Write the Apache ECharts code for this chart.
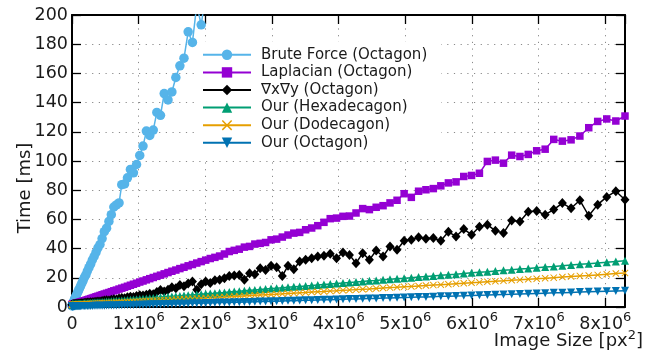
<!DOCTYPE html>
<html>
<head>
<meta charset="utf-8">
<script src="https://cdn.jsdelivr.net/npm/echarts@6/dist/echarts.min.js"></script>
<style>
  html, body { margin: 0; padding: 0; background: #ffffff; }
  #chart { width: 660px; height: 352px; }
</style>
</head>
<body>
<div id="chart"></div>
<script>
// Frame widths of the 16:9 test images (height = width * 9 / 16)
const widths = [
  32, 64, 96, 128, 160, 192, 224, 256, 288, 320,
  352, 384, 416, 448, 480, 512, 544, 576, 608, 640,
  672, 704, 736, 768, 800, 832, 864, 896, 928, 960,
  992, 1024, 1056, 1088, 1120, 1152, 1184, 1216, 1248, 1280,
  1312, 1344, 1376, 1408, 1440, 1472, 1504, 1536, 1568, 1600,
  1632, 1664, 1696, 1728, 1760, 1792, 1824, 1856, 1888, 1920,
  1952, 1984, 2016, 2048, 2080, 2112, 2144, 2176, 2208, 2240,
  2272, 2304, 2336, 2368, 2400, 2432, 2464, 2496, 2528, 2560,
  2592, 2624, 2656, 2688, 2720, 2752, 2784, 2816, 2848, 2880,
  2912, 2944, 2976, 3008, 3040, 3072, 3104, 3136, 3168, 3200,
  3232, 3264, 3296, 3328, 3360, 3392, 3424, 3456, 3488, 3520,
  3552, 3584, 3616, 3648, 3680, 3712, 3744, 3776, 3808, 3840
];

// Run times in ms, one value per image size
const bruteForce = [
  0.8, 1.0, 1.3, 1.8, 2.2, 3.1, 4.0, 5.2, 6.1, 7.3,
  8.4, 9.9, 11.2, 12.8, 14.5, 16.3, 18.1, 20.3, 22.0, 24.6,
  26.9, 29.3, 32.2, 34.6, 37.4, 40.5, 42.8, 46.9, 51.6, 54.0,
  58.6, 63.2, 68.5, 69.9, 71.3, 83.8, 84.3, 88.5, 94.2, 91.9,
  97.6, 103.8, 110.2, 120.5, 117.5, 121.2, 133.3, 131.3, 146.2, 141.8,
  147.3, 157.2, 165.2, 170.4, 188.5, 181.2, 207.0, 193.3, 214.0
];

const laplacian = [
  1.6, 1.6, 1.7, 1.8, 1.9, 2.0, 2.1, 2.2, 2.3, 2.5,
  2.6, 2.8, 3.0, 3.2, 3.5, 3.7, 4.0, 4.3, 4.6, 5.0,
  5.3, 5.7, 6.1, 6.5, 7.0, 7.4, 7.9, 8.4, 8.9, 9.4,
  9.9, 10.5, 11.1, 11.6, 12.3, 12.9, 13.5, 14.2, 14.9, 15.6,
  16.3, 17.1, 17.8, 18.6, 19.4, 20.2, 21.0, 21.8, 22.7, 23.6,
  24.5, 25.3, 26.3, 27.2, 28.2, 29.1, 30.1, 31.1, 32.1, 33.2,
  34.0, 34.9, 36.3, 38.0, 38.8, 39.6, 41.0, 41.5, 43.1, 43.6,
  44.2, 46.0, 46.5, 47.9, 49.3, 50.6, 51.1, 52.9, 54.1, 55.7,
  58.0, 60.5, 60.9, 62.1, 62.3, 64.4, 67.4, 66.7, 68.3, 69.4,
  71.3, 73.1, 77.6, 75.1, 79.3, 80.3, 81.1, 83.0, 85.0, 85.7,
  89.4, 90.1, 91.6, 99.7, 100.6, 98.5, 104.0, 103.1, 104.5, 107.0,
  108.1, 114.8, 113.6, 114.5, 117.1, 122.8, 127.1, 128.8, 127.4, 130.8
];

const gradientXY = [
  1.5, 1.5, 1.6, 1.6, 1.7, 1.7, 1.8, 1.8, 1.9, 2.0,
  2.0, 2.1, 2.2, 2.3, 2.4, 2.5, 2.6, 2.7, 2.9, 3.0,
  3.1, 3.3, 3.2, 3.5, 3.6, 3.8, 3.7, 4.1, 4.4, 4.6,
  4.5, 5.0, 5.3, 5.2, 5.8, 6.1, 6.0, 6.6, 7.0, 6.8,
  7.6, 8.0, 7.8, 8.4, 9.1, 8.8, 10.2, 11.7, 10.6, 11.9,
  13.5, 12.8, 15.0, 14.2, 16.1, 17.4, 11.8, 15.6, 17.4, 16.5,
  18.3, 18.6, 19.7, 21.3, 21.6, 22.0, 18.6, 23.1, 22.4, 26.6,
  25.4, 28.2, 27.3, 21.3, 28.2, 25.9, 31.2, 32.3, 33.4, 34.6,
  35.1, 36.4, 33.4, 37.3, 35.7, 30.0, 36.9, 32.3, 38.7, 34.6,
  41.5, 39.2, 45.4, 46.0, 47.7, 46.7, 47.2, 45.4, 51.5, 48.3,
  53.4, 49.5, 55.0, 56.4, 52.2, 50.6, 59.3, 58.6, 65.3, 65.7,
  63.2, 66.7, 71.2, 67.6, 73.1, 62.5, 70.1, 75.4, 79.3, 73.5
];

const ourHexadecagon = [
  1.8, 1.8, 1.8, 1.8, 1.9, 1.9, 1.9, 1.9, 2.0, 2.0,
  2.1, 2.1, 2.2, 2.2, 2.3, 2.3, 2.4, 2.5, 2.6, 2.6,
  2.7, 2.8, 2.9, 3.0, 3.1, 3.2, 3.3, 3.4, 3.5, 3.7,
  3.8, 3.9, 4.1, 4.2, 4.3, 4.5, 4.6, 4.8, 5.0, 5.1,
  5.3, 5.5, 5.6, 5.8, 6.0, 6.2, 6.4, 6.6, 6.8, 7.0,
  7.2, 7.4, 7.6, 7.9, 8.1, 8.3, 8.5, 8.8, 9.0, 9.3,
  9.5, 9.8, 10.0, 10.3, 10.6, 10.8, 11.1, 11.4, 11.7, 12.0,
  12.3, 12.6, 12.9, 13.2, 13.5, 13.8, 14.1, 14.4, 14.7, 15.1,
  15.4, 15.7, 16.1, 16.4, 16.8, 17.1, 17.5, 17.9, 18.2, 18.6,
  19.0, 19.4, 19.7, 20.1, 20.5, 20.9, 21.3, 21.7, 22.1, 22.5,
  23.0, 23.4, 23.8, 24.2, 24.7, 25.1, 25.5, 26.0, 26.4, 26.9,
  27.4, 27.8, 28.3, 28.8, 29.2, 29.7, 30.2, 30.7, 31.2, 31.7
];

const ourDodecagon = [
  1.5, 1.5, 1.5, 1.5, 1.5, 1.5, 1.6, 1.6, 1.6, 1.6,
  1.7, 1.7, 1.7, 1.8, 1.8, 1.8, 1.9, 1.9, 2.0, 2.0,
  2.1, 2.1, 2.2, 2.3, 2.3, 2.4, 2.5, 2.5, 2.6, 2.7,
  2.8, 2.8, 2.9, 3.0, 3.1, 3.2, 3.3, 3.4, 3.5, 3.6,
  3.7, 3.8, 3.9, 4.1, 4.2, 4.3, 4.4, 4.6, 4.7, 4.8,
  5.0, 5.1, 5.3, 5.4, 5.6, 5.7, 5.9, 6.0, 6.2, 6.4,
  6.5, 6.7, 6.9, 7.1, 7.2, 7.4, 7.6, 7.8, 8.0, 8.2,
  8.4, 8.6, 8.8, 9.0, 9.3, 9.5, 9.7, 9.9, 10.2, 10.4,
  10.6, 10.9, 11.1, 11.4, 11.6, 11.9, 12.2, 12.4, 12.7, 13.0,
  13.3, 13.5, 13.8, 14.1, 14.4, 14.7, 15.0, 15.3, 15.6, 16.0,
  16.3, 16.6, 16.9, 17.3, 17.6, 17.9, 18.3, 18.6, 19.0, 19.4,
  19.7, 20.1, 20.5, 20.9, 21.3, 21.6, 22.0, 22.4, 22.9, 23.3
];

const ourOctagon = [
  0.4, 0.4, 0.4, 0.4, 0.4, 0.4, 0.4, 0.4, 0.5, 0.5,
  0.5, 0.5, 0.5, 0.5, 0.5, 0.6, 0.6, 0.6, 0.6, 0.7,
  0.7, 0.7, 0.7, 0.8, 0.8, 0.8, 0.9, 0.9, 0.9, 1.0,
  1.0, 1.1, 1.1, 1.1, 1.2, 1.2, 1.3, 1.3, 1.4, 1.4,
  1.5, 1.5, 1.6, 1.7, 1.7, 1.8, 1.8, 1.9, 2.0, 2.0,
  2.1, 2.2, 2.2, 2.3, 2.4, 2.5, 2.5, 2.6, 2.7, 2.8,
  2.9, 3.0, 3.0, 3.1, 3.2, 3.3, 3.4, 3.5, 3.6, 3.7,
  3.8, 3.9, 4.0, 4.1, 4.2, 4.3, 4.5, 4.6, 4.7, 4.8,
  4.9, 5.0, 5.2, 5.3, 5.4, 5.5, 5.7, 5.8, 5.9, 6.1,
  6.2, 6.4, 6.5, 6.6, 6.8, 6.9, 7.1, 7.3, 7.4, 7.6,
  7.7, 7.9, 8.1, 8.2, 8.4, 8.6, 8.7, 8.9, 9.1, 9.3,
  9.5, 9.7, 9.8, 10.0, 10.2, 10.4, 10.6, 10.8, 11.0, 11.2
];

// Axis tick values
const xTickMantissas = [0, 1, 2, 3, 4, 5, 6, 7, 8];
const yTicks = [0, 20, 40, 60, 80, 100, 120, 140, 160, 180, 200];

const seriesNames = [
  'Brute Force (Octagon)',
  'Laplacian (Octagon)',
  '\u2207x\u2207y (Octagon)',
  'Our (Hexadecagon)',
  'Our (Dodecagon)',
  'Our (Octagon)'
];

const pixelCounts = widths.map(w => w * (w * 9 / 16));
const toPoints = vals => vals.map((v, i) => [pixelCounts[i], v]);

const FONT = 'DejaVu Sans';
const TEXT_COLOR = '#1a1a1a';
const X_MAX = pixelCounts[pixelCounts.length - 1];
const STEP = 1e6;

const crossPath = 'path://M0,1L1,0L5,4L9,0L10,1L6,5L10,9L9,10L5,6L1,10L0,9L4,5Z';

const innerTick = { show: true, inside: true, length: 9, lineStyle: { color: '#000', width: 1.3 } };
const frameLine = { show: true, onZero: false, lineStyle: { color: '#000', width: 2 } };
const dotted = { show: true, lineStyle: { color: '#8a8a8a', width: 1, type: [1.2, 5.5] } };

function xLabel(v) {
  if (v === 0) return '{b|0}';
  const m = v / STEP;
  if (xTickMantissas.indexOf(m) < 0) return '';
  return '{b|' + m + 'x10}{s|6}';
}

function lineSeries(name, data, color, symbol, size, extra) {
  return Object.assign({
    name: name,
    type: 'line',
    data: toPoints(data),
    xAxisIndex: 0,
    yAxisIndex: 0,
    showAllSymbol: true,
    symbol: symbol,
    symbolSize: size,
    clip: true,
    itemStyle: { color: color },
    lineStyle: { color: color, width: 1.5 },
    emphasis: { disabled: true },
    animation: false
  }, extra || {});
}

const chart = echarts.init(document.getElementById('chart'), null, { renderer: 'canvas' });

chart.setOption({
  backgroundColor: '#ffffff',
  animation: false,
  textStyle: { fontFamily: FONT },
  grid: { left: 72, right: 35, top: 15, bottom: 45 },
  xAxis: [
    {
      type: 'value', position: 'bottom', min: 0, max: X_MAX, interval: STEP,
      axisLine: frameLine, axisTick: innerTick, splitLine: dotted,
      axisLabel: {
        show: true, margin: 4, showMaxLabel: false, formatter: xLabel,
        rich: {
          b: { fontFamily: FONT, fontSize: 17.5, color: TEXT_COLOR, lineHeight: 26, verticalAlign: 'middle' },
          s: { fontFamily: FONT, fontSize: 13, color: TEXT_COLOR, lineHeight: 12, verticalAlign: 'top' }
        }
      }
    },
    {
      type: 'value', position: 'top', min: 0, max: X_MAX, interval: STEP,
      axisLine: frameLine, axisTick: innerTick, splitLine: { show: false }, axisLabel: { show: false }
    }
  ],
  yAxis: [
    {
      type: 'value', position: 'left', min: yTicks[0], max: yTicks[yTicks.length - 1], interval: 20,
      axisLine: frameLine, axisTick: innerTick, splitLine: dotted,
      axisLabel: { margin: 4, fontFamily: FONT, fontSize: 17.5, color: TEXT_COLOR }
    },
    {
      type: 'value', position: 'right', min: yTicks[0], max: yTicks[yTicks.length - 1], interval: 20,
      axisLine: frameLine, axisTick: innerTick, splitLine: { show: false }, axisLabel: { show: false }
    }
  ],
  legend: {
    show: true,
    orient: 'vertical',
    left: 198,
    top: 42,
    padding: [4, 14, 6, 4],
    backgroundColor: '#ffffff',
    itemWidth: 48,
    itemHeight: 13,
    itemGap: 0,
    selectedMode: false,
    textStyle: { fontFamily: FONT, fontSize: 15, color: TEXT_COLOR, lineHeight: 17.6, padding: [0, 0, 0, 5] },
    data: seriesNames
  },
  graphic: [
    {
      type: 'text', right: 17, top: 329, z: 10,
      style: {
        text: '{t|Image Size [px}{s|2}{t|]}',
        rich: {
          t: { fontFamily: FONT, fontSize: 18, fill: TEXT_COLOR, lineHeight: 24, verticalAlign: 'middle' },
          s: { fontFamily: FONT, fontSize: 13, fill: TEXT_COLOR, lineHeight: 12, verticalAlign: 'top' }
        }
      }
    },
    {
      type: 'text', x: 25, y: 188, rotation: Math.PI / 2, z: 10,
      style: {
        text: 'Time [ms]', fontFamily: FONT, fontSize: 18, fill: TEXT_COLOR,
        align: 'center', verticalAlign: 'middle'
      }
    }
  ],
  series: [
    lineSeries(seriesNames[0], bruteForce, '#56B4E9', 'circle', 9.5),
    lineSeries(seriesNames[1], laplacian, '#9400D3', 'rect', 7.5),
    lineSeries(seriesNames[2], gradientXY, '#000000', 'diamond', [9, 10]),
    lineSeries(seriesNames[3], ourHexadecagon, '#009E73', 'triangle', 8),
    lineSeries(seriesNames[4], ourDodecagon, '#E69F00', crossPath, 7),
    lineSeries(seriesNames[5], ourOctagon, '#0072B2', 'triangle', 8, { symbolRotate: 180 })
  ]
});
</script>
</body>
</html>
